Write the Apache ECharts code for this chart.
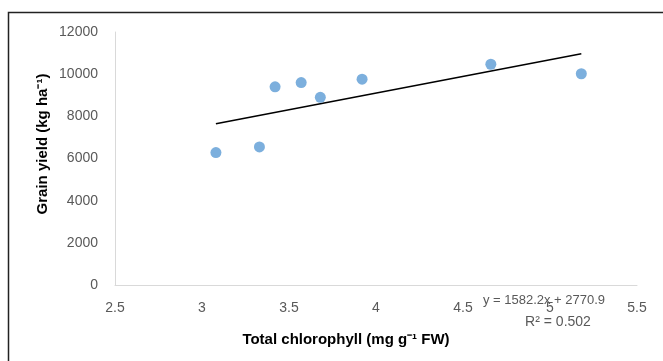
<!DOCTYPE html>
<html><head><meta charset="utf-8">
<script src="https://cdn.jsdelivr.net/npm/echarts@6/dist/echarts.min.js"></script>
<style>html,body{margin:0;padding:0;background:#fff;}#c{width:663px;height:361px;}</style>
</head><body><div id="c"></div>
<script>
const chlorophyll = [3.08, 3.33, 3.42, 3.57, 3.68, 3.92, 4.66, 5.18];
const grainYield = [6280, 6550, 9400, 9600, 8900, 9760, 10470, 10020];
const slope = 1582.2, intercept = 2770.9;
const xTicks = [2.5, 3, 3.5, 4, 4.5, 5, 5.5];
const yTicks = [0, 2000, 4000, 6000, 8000, 10000, 12000];
const xMin = Math.min(...chlorophyll), xMax = Math.max(...chlorophyll);
const trend = [[xMin, slope*xMin+intercept],[xMax, slope*xMax+intercept]];
const font = 'Liberation Sans, Arial, sans-serif';
const chart = echarts.init(document.getElementById('c'));
chart.setOption({
  animation:false,
  grid:{left:115, right:26, top:32, bottom:76},
  xAxis:{type:'value', min:xTicks[0], max:xTicks[xTicks.length-1], interval:0.5,
    axisLine:{show:true, onZero:false, lineStyle:{color:'#d9d9d9', width:1}},
    axisTick:{show:false}, splitLine:{show:false},
    axisLabel:{color:'#595959', fontSize:14, fontFamily:font, margin:16}},
  yAxis:{type:'value', min:yTicks[0], max:yTicks[yTicks.length-1], interval:2000,
    axisLine:{show:true, lineStyle:{color:'#d9d9d9', width:1}},
    axisTick:{show:false}, splitLine:{show:false},
    axisLabel:{color:'#595959', fontSize:14, fontFamily:font, margin:17, formatter:v=>String(v)}},
  series:[
    {type:'line', data:trend, symbol:'none', lineStyle:{color:'#000', width:1.5}, z:1},
    {type:'scatter', data:chlorophyll.map((x,i)=>[x, grainYield[i]]), symbolSize:11,
      itemStyle:{color:'#5B9BD5'}, z:2}
  ],
  graphic:[
    {type:'rect', shape:{x:8.5, y:12.5, width:700, height:400}, style:{fill:null, stroke:'#222', lineWidth:1.5}, z:100},
    {type:'text', x:43, y:144, rotation:Math.PI/2, style:{text:'Grain yield (kg ha⁻¹)', fill:'#000', font:'bold 15px '+font, align:'center', verticalAlign:'middle'}},
    {type:'text', x:346, y:340, style:{text:'Total chlorophyll (mg g⁻¹ FW)', fill:'#000', font:'bold 15px '+font, align:'center', verticalAlign:'middle'}},
    {type:'text', x:544, y:300, style:{text:'y = 1582.2x + 2770.9', fill:'#595959', font:'13px '+font, align:'center', verticalAlign:'middle'}},
    {type:'text', x:558, y:322, style:{text:'R² = 0.502', fill:'#595959', font:'14px '+font, align:'center', verticalAlign:'middle'}}
  ]
});
</script></body></html>
